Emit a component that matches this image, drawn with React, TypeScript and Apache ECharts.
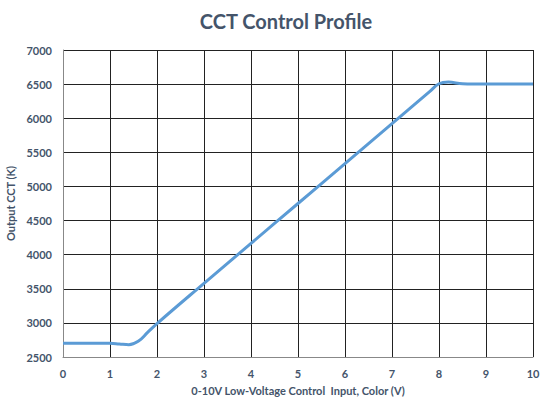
import React, { useEffect, useRef } from "react";
import * as echarts from "echarts";

const voltage = [0, 1, 1.2, 1.4, 1.6, 1.8, 2, 3, 4, 5, 6, 7, 7.8, 8, 8.2, 8.5, 9, 10];
const cct = [2700, 2700, 2690, 2680, 2730, 2860, 2990, 3580, 4165, 4750, 5335, 5920, 6390, 6505, 6530, 6505, 6500, 6500];
const xTicks = [0, 1, 2, 3, 4, 5, 6, 7, 8, 9, 10];
const yTicks = [2500, 3000, 3500, 4000, 4500, 5000, 5500, 6000, 6500, 7000];

export default function App() {
  const ref = useRef<HTMLDivElement>(null);
  useEffect(() => {
    if (!ref.current) return;
    const chart = echarts.init(ref.current, undefined, { renderer: "svg" });
    const textColor = "#44546A";
    const font = "Lato, 'Open Sans', sans-serif";
    chart.setOption({
      animation: false,
      backgroundColor: "#ffffff",
      title: {
        text: "CCT Control Profile",
        left: 281,
        top: 6,
        textAlign: "center",
        textStyle: { color: textColor, fontSize: 20, fontWeight: "bold", fontFamily: font },
      },
      grid: { left: 63, right: 9, top: 50, bottom: 43, outerBoundsMode: "none", containLabel: false },
      xAxis: {
        type: "value",
        min: xTicks[0],
        max: xTicks[xTicks.length - 1],
        interval: 1,
        name: "0-10V Low-Voltage Control  Input, Color (V)",
        nameLocation: "middle",
        nameGap: 28,
        nameTextStyle: { color: textColor, fontSize: 11, fontWeight: "bold", fontFamily: font },
        axisLine: { show: true, lineStyle: { color: "#888888", width: 1 } },
        axisTick: { show: false },
        axisLabel: { color: textColor, fontSize: 11, fontWeight: "bold", fontFamily: font, margin: 11 },
        splitLine: { show: true, lineStyle: { color: "#222222", width: 1 } },
      },
      yAxis: {
        type: "value",
        min: yTicks[0],
        max: yTicks[yTicks.length - 1],
        interval: 500,
        name: "Output CCT (K)",
        nameLocation: "middle",
        nameGap: 41,
        nameTextStyle: { color: textColor, fontSize: 11, fontWeight: "bold", fontFamily: font },
        axisLine: { show: true, lineStyle: { color: "#888888", width: 1 } },
        axisTick: { show: false },
        axisLabel: {
          color: textColor,
          fontSize: 11,
          fontWeight: "bold",
          fontFamily: font,
          margin: 11,
          formatter: (v: number) => String(v),
        },
        splitLine: { show: true, lineStyle: { color: "#222222", width: 1 } },
      },
      series: [
        {
          type: "line",
          data: voltage.map((v, i) => [v, cct[i]]),
          smooth: 0.4,
          showSymbol: false,
          lineStyle: { color: "#5B9BD5", width: 3 },
        },
      ],
    });
    return () => chart.dispose();
  }, []);
  return <div ref={ref} style={{ position: "fixed", left: 0, top: 0, width: 542, height: 400 }} />;
}
